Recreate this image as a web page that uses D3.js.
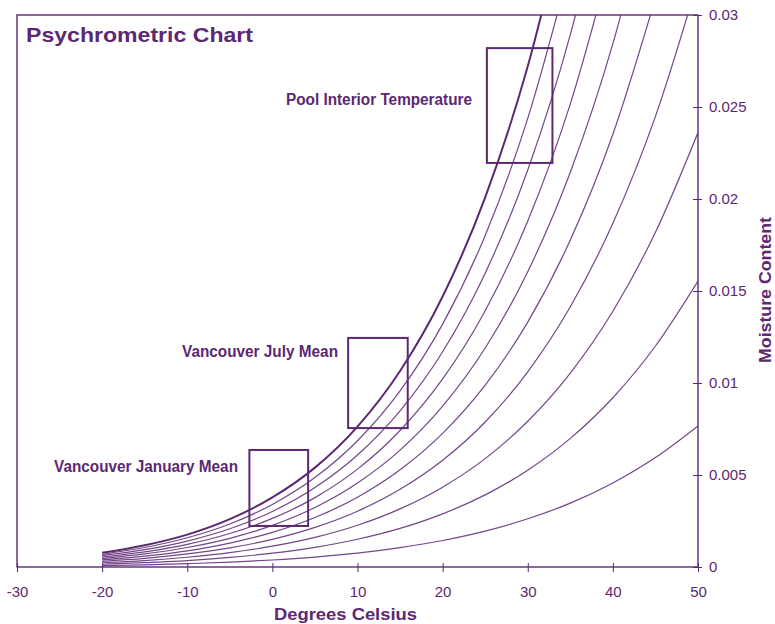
<!DOCTYPE html>
<html>
<head>
<meta charset="utf-8">
<script src="https://cdn.jsdelivr.net/npm/d3@7"></script>
<style>
  html, body { margin: 0; padding: 0; background: #fff; }
  svg { display: block; }
</style>
</head>
<body>
<svg id="chart" width="775" height="624"></svg>
<script>
// ---------- data ----------
const temps = [-20, -15, -10, -5, 0, 5, 10, 15, 20, 25, 30, 35, 40, 45, 50];
const rhLevels = [10, 20, 30, 40, 50, 60, 70, 80, 90, 100];
const rh10  = [0.00008,0.00012,0.00018,0.00026,0.00038,0.00054,0.00075,0.00105,0.00144,0.00195,0.00262,0.00347,0.00457,0.00595,0.00767];
const rh20  = [0.00015,0.00024,0.00035,0.00052,0.00075,0.00107,0.00151,0.00210,0.00289,0.00392,0.00526,0.00699,0.00920,0.01201,0.01554];
const rh30  = [0.00023,0.00035,0.00053,0.00078,0.00113,0.00161,0.00227,0.00316,0.00434,0.00589,0.00792,0.01054,0.01390,0.01819,0.02361];
const rh40  = [0.00031,0.00047,0.00071,0.00104,0.00150,0.00215,0.00303,0.00422,0.00580,0.00788,0.01061,0.01414,0.01868,0.02449,0.03188];
const rh50  = [0.00039,0.00059,0.00088,0.00130,0.00188,0.00269,0.00379,0.00528,0.00726,0.00988,0.01331,0.01777,0.02352,0.03091];
const rh60  = [0.00046,0.00071,0.00106,0.00156,0.00226,0.00323,0.00456,0.00635,0.00874,0.01190,0.01605,0.02145,0.02844,0.03747];
const rh70  = [0.00054,0.00082,0.00123,0.00182,0.00264,0.00377,0.00532,0.00742,0.01022,0.01393,0.01880,0.02517,0.03344];
const rh80  = [0.00062,0.00094,0.00141,0.00208,0.00302,0.00432,0.00609,0.00849,0.01170,0.01597,0.02158,0.02893,0.03851];
const rh90  = [0.00069,0.00106,0.00159,0.00234,0.00340,0.00486,0.00686,0.00957,0.01320,0.01802,0.02438,0.03273];
const rh100 = [0.00077,0.00118,0.00176,0.00260,0.00378,0.00540,0.00763,0.01065,0.01470,0.02009,0.02721,0.03659];
const seriesValues = [rh10, rh20, rh30, rh40, rh50, rh60, rh70, rh80, rh90, rh100];

const boxLabels = ["Pool Interior Temperature", "Vancouver July Mean", "Vancouver January Mean"];
const boxTempLo  = [25.2, 8.9, -2.7];
const boxTempHi  = [32.9, 15.9, 4.2];
const boxMoistLo = [0.02196, 0.00755, 0.00223];
const boxMoistHi = [0.0282, 0.01245, 0.00636];

const xTicks = [-30, -20, -10, 0, 10, 20, 30, 40, 50];
const yTicks = [0, 0.005, 0.01, 0.015, 0.02, 0.025, 0.03];
const yTickLabels = ["0", "0.005", "0.01", "0.015", "0.02", "0.025", "0.03"];

const titleText = "Psychrometric Chart";
const xTitle = "Degrees Celsius";
const yTitle = "Moisture Content";

// ---------- drawing ----------
const ink = "#5c2872";
const lineInk = "#66367d";
const font = "'Liberation Sans', Arial, Helvetica, sans-serif";

const svg = d3.select("#chart");
const L = 17, R = 698, T = 15, B = 567;

const x = d3.scaleLinear().domain([-30, 50]).range([L, R]);
const y = d3.scaleLinear().domain([0, 0.03]).range([B, T]);

svg.append("defs").append("clipPath").attr("id", "plotClip")
  .append("rect").attr("x", L).attr("y", T).attr("width", R - L).attr("height", B - T);

// curves
const line = d3.line()
  .x(d => x(d[0]))
  .y(d => y(d[1]))
  .curve(d3.curveMonotoneX);

const curves = svg.append("g").attr("clip-path", "url(#plotClip)");
seriesValues.forEach((vals, i) => {
  const pts = vals.map((v, j) => [temps[j], v]);
  curves.append("path")
    .attr("d", line(pts))
    .attr("fill", "none")
    .attr("stroke", rhLevels[i] === 100 ? ink : lineInk)
    .attr("stroke-width", rhLevels[i] === 100 ? 2 : 1.2)
    .attr("opacity", rhLevels[i] === 100 ? 1 : 0.92);
});

// frame
svg.append("rect")
  .attr("x", L).attr("y", T).attr("width", R - L).attr("height", B - T)
  .attr("fill", "none").attr("stroke", ink).attr("stroke-width", 1.4);

// bottom axis
const xAxis = svg.append("g")
  .attr("transform", `translate(0,${B})`)
  .call(d3.axisBottom(x).tickValues(xTicks).tickSizeOuter(0).tickSizeInner(5).tickPadding(14)
    .tickFormat(d => d));
xAxis.select(".domain").remove();
xAxis.selectAll(".tick line").attr("y1", -4).attr("y2", 5).attr("stroke", ink).attr("stroke-width", 1);
xAxis.selectAll(".tick text")
  .attr("fill", ink).attr("font-family", font).attr("font-size", "15px")
  .text(d => d < 0 ? "-" + Math.abs(d) : d);

// right axis
const yAxis = svg.append("g")
  .attr("transform", `translate(${R},0)`)
  .call(d3.axisRight(y).tickValues(yTicks).tickSizeOuter(0).tickSizeInner(4).tickPadding(7)
    .tickFormat((d, i) => yTickLabels[i]));
yAxis.select(".domain").remove();
yAxis.selectAll(".tick line").attr("x1", -5).attr("x2", 4).attr("stroke", ink).attr("stroke-width", 1);
yAxis.selectAll(".tick text")
  .attr("fill", ink).attr("font-family", font).attr("font-size", "15px");

// boxes + labels
const labelX = [472, 338, 238];
const labelY = [105, 357, 472];
const labelW = [186, 156, 184];
boxLabels.forEach((lab, i) => {
  svg.append("rect")
    .attr("x", x(boxTempLo[i])).attr("y", y(boxMoistHi[i]))
    .attr("width", x(boxTempHi[i]) - x(boxTempLo[i]))
    .attr("height", y(boxMoistLo[i]) - y(boxMoistHi[i]))
    .attr("fill", "none").attr("stroke", ink).attr("stroke-width", 2);
  svg.append("text")
    .attr("x", labelX[i] - labelW[i]).attr("y", labelY[i])
    .attr("font-family", font).attr("font-weight", "bold").attr("font-size", "16px")
    .attr("fill", ink)
    .attr("textLength", labelW[i]).attr("lengthAdjust", "spacingAndGlyphs")
    .text(lab);
});

// title
svg.append("text")
  .attr("x", 26).attr("y", 42)
  .attr("font-family", font).attr("font-weight", "bold").attr("font-size", "21px")
  .attr("fill", ink)
  .attr("textLength", 227).attr("lengthAdjust", "spacingAndGlyphs")
  .text(titleText);

// x title
svg.append("text")
  .attr("x", 274).attr("y", 620)
  .attr("font-family", font).attr("font-weight", "bold").attr("font-size", "17px")
  .attr("fill", ink)
  .attr("textLength", 143).attr("lengthAdjust", "spacingAndGlyphs")
  .text(xTitle);

// y title (rotated)
svg.append("text")
  .attr("transform", "translate(771,290) rotate(-90)")
  .attr("text-anchor", "middle")
  .attr("font-family", font).attr("font-weight", "bold").attr("font-size", "17px")
  .attr("fill", ink)
  .attr("textLength", 146).attr("lengthAdjust", "spacingAndGlyphs")
  .text(yTitle);
</script>
</body>
</html>
